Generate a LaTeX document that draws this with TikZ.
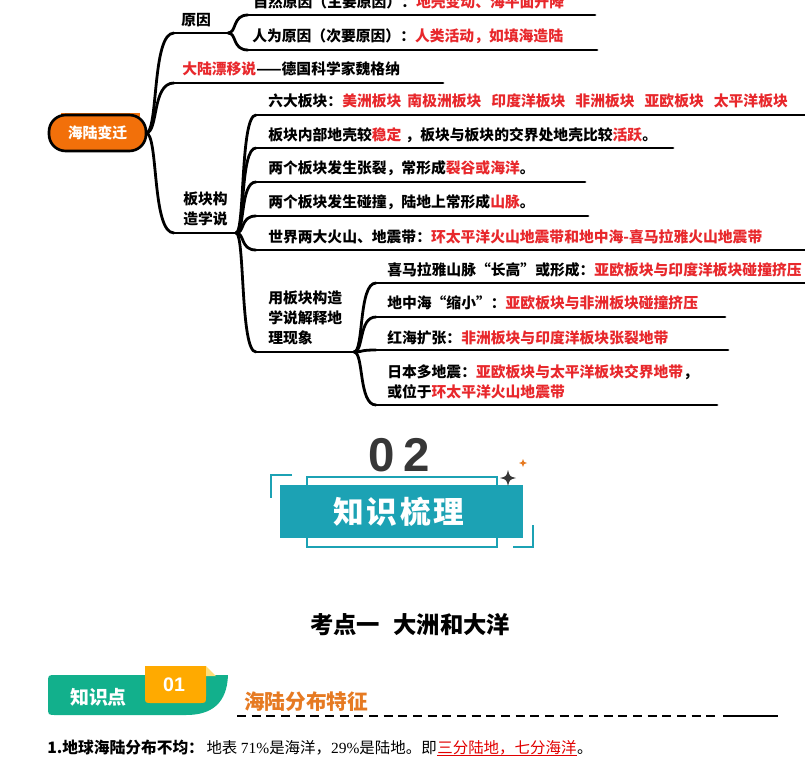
\documentclass[tikz,border=0pt]{standalone}
\usepackage{fontspec}
\setmainfont{Noto Sans CJK SC}
\newfontfamily\latn{Liberation Sans}
\newfontfamily\tms{Liberation Serif}
\usetikzlibrary{calc}
\definecolor{mred}{RGB}{232,40,44}
\definecolor{porange}{RGB}{242,112,10}
\definecolor{teal1}{RGB}{28,162,180}
\definecolor{badgeg}{RGB}{18,176,140}
\definecolor{tabo}{RGB}{255,170,0}
\definecolor{foldy}{RGB}{255,222,120}
\definecolor{titleo}{RGB}{230,122,34}
\definecolor{dgray}{RGB}{55,55,55}
\definecolor{ured}{RGB}{225,0,0}
\tikzset{
 ml/.style={line width=2.1pt, black, line cap=round},
 tx/.style={inner sep=0pt, anchor=west, text height=9.8pt, text depth=1.3pt, font=\fontsize{11.1}{15}\selectfont\bfseries},
 tm/.style={inner sep=0pt, anchor=west, align=left, font=\fontsize{11.1}{15}\selectfont\bfseries},
 bt/.style={inner sep=0pt, anchor=base west},
}
\newcommand\brc[2]{%
  \draw[ml] let \p1=(#1), \p2=(#2) in
  (\p1) .. controls ({\x1+0.45*(\x2-\x1)},\y1) and ({\x1+0.2*(\x2-\x1)},\y2) .. (\p2);}
\newcommand\sparkle[4]{% x y size colour
  \fill[#4] (#1,#2-#3) .. controls (#1+0.2*#3,#2-0.2*#3) .. (#1+#3,#2)
   .. controls (#1+0.2*#3,#2+0.2*#3) .. (#1,#2+#3)
   .. controls (#1-0.2*#3,#2+0.2*#3) .. (#1-#3,#2)
   .. controls (#1-0.2*#3,#2-0.2*#3) .. (#1,#2-#3) -- cycle;}
\begin{document}
\begin{tikzpicture}[x=0.75pt,y=-0.75pt]
\useasboundingbox (0,0) rectangle (805,770);
\fill[white] (0,0) rectangle (805,770);
\clip (0,0) rectangle (805,770);

% ---------- coordinates of underlines ----------
\coordinate (rootE) at (146,133);
\coordinate (yyL) at (174,33);   \coordinate (yyR) at (228,33);
\coordinate (zrL) at (248,15);   \coordinate (zrR) at (595,15);
\coordinate (rwL) at (248,50);   \coordinate (rwR) at (597,50);
\coordinate (dlL) at (174,83);   \coordinate (dlR) at (443,83);
\coordinate (bkL) at (174,233);  \coordinate (bkR) at (236,233);
\coordinate (l6L) at (256,115);  \coordinate (l6R) at (810,115);
\coordinate (nbL) at (256,148);  \coordinate (nbR) at (673,148);
\coordinate (zlL) at (256,182);  \coordinate (zlR) at (585,182);
\coordinate (pzL) at (256,216);  \coordinate (pzR) at (588,216);
\coordinate (sjL) at (256,250);  \coordinate (sjR) at (810,250);
\coordinate (ybL) at (256,352);  \coordinate (ybR) at (354,352);
\coordinate (xmL) at (376,283);  \coordinate (xmR) at (810,283);
\coordinate (dzL) at (376,317);  \coordinate (dzR) at (725,317);
\coordinate (hhL) at (376,350);  \coordinate (hhR) at (728,350);
\coordinate (rbL) at (376,405);  \coordinate (rbR) at (717,405);

% ---------- connectors ----------
\brc{rootE}{yyL} \brc{rootE}{dlL} \brc{rootE}{bkL}
\brc{yyR}{zrL} \brc{yyR}{rwL}
\brc{bkR}{l6L} \brc{bkR}{nbL} \brc{bkR}{zlL} \brc{bkR}{pzL} \brc{bkR}{sjL} \brc{bkR}{ybL}
\brc{ybR}{xmL} \brc{ybR}{dzL} \brc{ybR}{hhL} \brc{ybR}{rbL}
\foreach \a in {yy,zr,rw,dl,bk,l6,nb,zl,pz,sj,yb,xm,dz,hh,rb}{\draw[ml] (\a L) -- (\a R);}

% ---------- root ----------
\fill[porange] (61,113) rectangle (140,148);
\draw[line width=2pt, fill=porange, rounded corners=12.5pt] (49,115) rectangle (146,151);
\node[inner sep=0, text=white, font=\fontsize{11.1}{14}\selectfont\bfseries] (root) at (97.5,133) {海陆变迁};

% ---------- texts ----------
\node[tx] (yy) at (181,20) {原因};
\node[tx] (zr) at (253,1.5) {自然原因（主要原因）：\textcolor{mred}{地壳变动、海平面升降}};
\node[tx] (rw) at (252,36) {人为原因（次要原因）：\textcolor{mred}{人类活动，如填海造陆}};
\node[tx] (dl) at (182,69) {\textcolor{mred}{大陆漂移说}——德国科学家魏格纳};
\node[tm] (bk) at (183,209) {板块构\\造学说};
\node[tx] (l6) at (268,101) {六大板块：\textcolor{mred}{美洲板块\hspace{4.5pt}南极洲板块\hspace{7.5pt}印度洋板块\hspace{7.5pt}非洲板块\hspace{7.5pt}亚欧板块\hspace{7.5pt}太平洋板块}};
\node[tx] (nb) at (268,135) {板块内部地壳较\textcolor{mred}{稳定}\hspace{3pt}，板块与板块的交界处地壳比较\textcolor{mred}{活跃}。};
\node[tx] (zl) at (268,168) {两个板块发生张裂，常形成\textcolor{mred}{裂谷或海洋}。};
\node[tx] (pz) at (268,202) {两个板块发生碰撞，陆地上常形成\textcolor{mred}{山脉}。};
\node[tx] (sj) at (268,237) {世界两大火山、地震带：\textcolor{mred}{环太平洋火山地震带和地中海-喜马拉雅火山地震带}};
\node[tm] (yb) at (268,318) {用板块构造\\学说解释地\\理现象};
\node[tx] (xm) at (387,270) {喜马拉雅山脉“长高”或形成：\textcolor{mred}{亚欧板块与印度洋板块碰撞挤压}};
\node[tx] (dz) at (387,303) {地中海“缩小”：\textcolor{mred}{亚欧板块与非洲板块碰撞挤压}};
\node[tx] (hh) at (387,338) {红海扩张：\textcolor{mred}{非洲板块与印度洋板块张裂地带}};
\node[tm] (rb) at (387,382) {日本多地震：\textcolor{mred}{亚欧板块与太平洋板块交界地带}，\\或位于\textcolor{mred}{环太平洋火山地震带}};

% ---------- 02 banner ----------
\node[inner sep=0, text=dgray, font=\latn\bfseries\fontsize{35.6}{40}\selectfont] (num) at (399,455) {0\kern6.5pt 2};
\draw[teal1, line width=1.1pt] (307,477) rectangle (497,547);
\fill[teal1] (280,485) rectangle (523,538);
\node[inner sep=0, text=white, font=\bfseries\fontsize{23}{28}\selectfont] (zs) at (399,512) {知\hspace{2pt}识\hspace{2pt}梳\hspace{2pt}理};
\draw[teal1, line width=1.6pt] (292,475) -- (271,475) -- (271,498);
\draw[teal1, line width=1.6pt] (513,547) -- (533,547) -- (533,525);
\sparkle{508}{478}{8}{dgray}
\sparkle{523}{463}{4}{titleo}

% ---------- title ----------
\node[inner sep=0, anchor=west, font=\bfseries\fontsize{17.5}{20}\selectfont] (kd) at (310,625) {考点一\hspace{10pt}大洲和大洋};

% ---------- badge ----------
\fill[badgeg] (56,675) .. controls (48,675) .. (48,683) -- (48,707) .. controls (48,715) .. (56,715) -- (186,715) .. controls (212,715) and (227,703) .. (228,675) -- cycle;
\fill[tabo] (145,666) -- (206,666) -- (206,696) .. controls (206,703) .. (199,703) -- (152,703) .. controls (145,703) .. (145,696) -- cycle;
\fill[foldy] (206,666) -- (216,676) -- (206,676) -- cycle;
\node[inner sep=0, text=white, font=\latn\bfseries\fontsize{14.7}{16}\selectfont] (n01) at (174,685) {01};
\node[inner sep=0, text=white, font=\bfseries\fontsize{14.2}{16}\selectfont] (zsd) at (98.5,697) {知识点};
\node[inner sep=0, anchor=west, text=titleo, font=\bfseries\fontsize{15.5}{18}\selectfont] (hl) at (244,702) {海陆分布特征};
\coordinate (dA) at (237,716); \coordinate (dB) at (720,716);
\coordinate (dC) at (723,716); \coordinate (dD) at (778,716);
\draw[line width=0.9pt, dash pattern=on 6.8pt off 4.2pt] (dA) -- (dB);
\draw[line width=0.9pt] (dC) -- (dD);

% ---------- bottom line ----------
\node[bt, font=\bfseries\fontsize{11.8}{14}\selectfont] (b1) at (47,753) {1.地球海陆分布不均：};
\node[bt, font=\fontsize{11.6}{14}\selectfont] (b2) at ([xshift=1.5pt]b1.base east) {地表 {\tms 71\%}是海洋，{\tms 29\%}是陆地。即};
\node[bt, text=ured, font=\fontsize{11.6}{14}\selectfont] (b3) at (b2.base east) {三分陆地，七分海洋};
\node[bt, font=\fontsize{11.6}{14}\selectfont] (b4) at (b3.base east) {。};
\draw[ured, line width=0.6pt] ([yshift=-1.8pt]b3.base west) -- ([yshift=-1.8pt]b3.base east);
\end{tikzpicture}
\end{document}
